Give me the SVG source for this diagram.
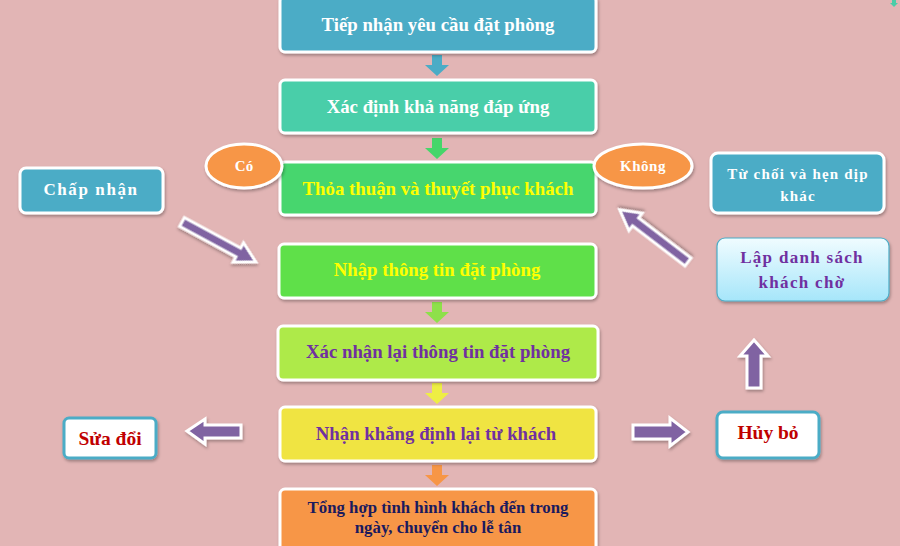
<svg xmlns="http://www.w3.org/2000/svg" width="900" height="546" viewBox="0 0 900 546">
<defs>
<filter id="sh" x="-10%" y="-10%" width="130%" height="140%">
<feDropShadow dx="1" dy="2" stdDeviation="1.5" flood-color="#000" flood-opacity="0.3"/>
</filter>
<linearGradient id="cyan" x1="0" y1="0" x2="0" y2="1">
<stop offset="0" stop-color="#F0FCFF"/>
<stop offset="1" stop-color="#A6E6FA"/>
</linearGradient>
</defs>
<style>
text{font-family:"Liberation Serif","Times New Roman",serif;font-weight:bold;text-anchor:middle}
.box{stroke:#fff;stroke-width:3;filter:url(#sh)}
.pa{fill:#8064A2;stroke:#fff;stroke-width:3;stroke-linejoin:miter;filter:url(#sh)}
.ell{fill:#F79646;stroke:#fff;stroke-width:3;filter:url(#sh)}
.m{font-size:18.8px}
</style>
<rect width="900" height="546" fill="#E2B5B5"/>

<g id="connectors">
<polygon points="432,55 442,55 442,65 449,65 437,76 425,65 432,65" fill="#4BACC6"/>
<polygon points="432,138 442,138 442,148 449,148 437,159 425,148 432,148" fill="#46D66A"/>
<polygon points="432,302 442,302 442,312 449,312 437,323 425,312 432,312" fill="#8EE04A"/>
<polygon points="432,383 442,383 442,393 449,393 437,404 425,393 432,393" fill="#EEEE44"/>
<polygon points="432,465 442,465 442,475 449,475 437,486 425,475 432,475" fill="#F79646"/>
<polygon class="pa" transform="translate(182,222) rotate(28.4)" points="0,-5 64,-5 64,-11 84,0 64,11 64,5 0,5"/>
<polygon class="pa" transform="translate(688,262) rotate(217.4)" points="0,-5 66,-5 66,-11 86,0 66,11 66,5 0,5"/>
<polygon class="pa" points="747,388 761,388 761,356 768,356 754,340 740,356 747,356"/>
<polygon class="pa" points="241,425 241,438 205,438 205,444 187,431 205,419 205,425"/>
<polygon class="pa" points="633,425 670,425 670,418 688,432 670,446 670,439 633,439"/>
<polygon points="892,0 896,0 896,3 898,3 894,7 890,3 892,3" fill="#4ACDA8"/>
</g>

<g id="n1"><rect class="box" x="280" y="-4" width="316" height="56" rx="5" fill="#4BACC6"/>
<text class="m" x="438" y="31" fill="#fff">Tiếp nhận yêu cầu đặt phòng</text></g>

<g id="n2"><rect class="box" x="280" y="80" width="316" height="53" rx="5" fill="#48CEA9"/>
<text class="m" x="438" y="113" fill="#fff">Xác định  khả năng đáp ứng</text></g>

<g id="n3"><rect class="box" x="280" y="162" width="316" height="53" rx="5" fill="#46D66E"/>
<text class="m" x="438" y="195" fill="#FFFF00">Thỏa thuận và thuyết phục khách</text></g>

<g id="co"><ellipse class="ell" cx="244" cy="166" rx="38" ry="22"/>
<text x="244" y="171" font-size="15" fill="#fff">Có</text></g>

<g id="khong"><ellipse class="ell" cx="643" cy="166" rx="49" ry="22"/>
<text x="643" y="171" font-size="15" fill="#fff" letter-spacing="0.5">Không</text></g>

<g id="chapnhan"><rect class="box" x="20" y="168" width="143" height="45" rx="6" fill="#4BACC6"/>
<text x="91" y="195" font-size="17" fill="#fff" letter-spacing="1.6">Chấp nhận</text></g>

<g id="n4"><rect class="box" x="279" y="244" width="317" height="54" rx="5" fill="#5EE04A"/>
<text class="m" x="437" y="276" fill="#FFFF00">Nhập thông tin đặt phòng</text></g>

<g id="n5"><rect class="box" x="278" y="326" width="320" height="54" rx="5" fill="#AEEA48"/>
<text class="m" x="438" y="358" fill="#7030A0">Xác nhận lại thông tin đặt phòng</text></g>

<g id="n6"><rect class="box" x="280" y="407" width="316" height="54" rx="5" fill="#F0E442"/>
<text class="m" x="436" y="440" fill="#7030A0">Nhận khẳng định  lại từ khách</text></g>

<g id="n7"><rect class="box" x="280" y="489" width="316" height="62" rx="5" fill="#F79646"/>
<text x="438" y="513" font-size="16.8" fill="#1A1A5E">Tổng hợp tình hình khách  đến trong</text>
<text x="438" y="533" font-size="16.8" fill="#1A1A5E">ngày, chuyển  cho lễ tân</text></g>

<g id="suadoi"><rect x="64" y="418" width="92" height="40" rx="5" fill="#fff" stroke="#4BACC6" stroke-width="3" filter="url(#sh)"/>
<text x="110" y="445" font-size="19.5" fill="#C00000">Sửa đổi</text></g>

<g id="huybo"><rect x="717" y="412" width="102" height="46" rx="6" fill="#fff" stroke="#4BACC6" stroke-width="3" filter="url(#sh)"/>
<text x="768" y="439" font-size="19.5" fill="#C00000">Hủy bỏ</text></g>

<g id="lapdanhsach"><rect x="717" y="238" width="172" height="63" rx="8" fill="url(#cyan)" stroke="#4BACC6" stroke-width="1.2" filter="url(#sh)"/>
<text x="802" y="263" font-size="17" fill="#7030A0" letter-spacing="1.3">Lập danh sách</text>
<text x="802" y="288" font-size="17" fill="#7030A0" letter-spacing="1.3">khách chờ</text></g>

<g id="tuchoi"><rect class="box" x="711" y="153" width="173" height="60" rx="7" fill="#4BACC6"/>
<text x="798" y="179" font-size="15" fill="#fff" letter-spacing="1.2">Từ chối và hẹn dịp</text>
<text x="798" y="201" font-size="15" fill="#fff" letter-spacing="1.2">khác</text></g>
</svg>
